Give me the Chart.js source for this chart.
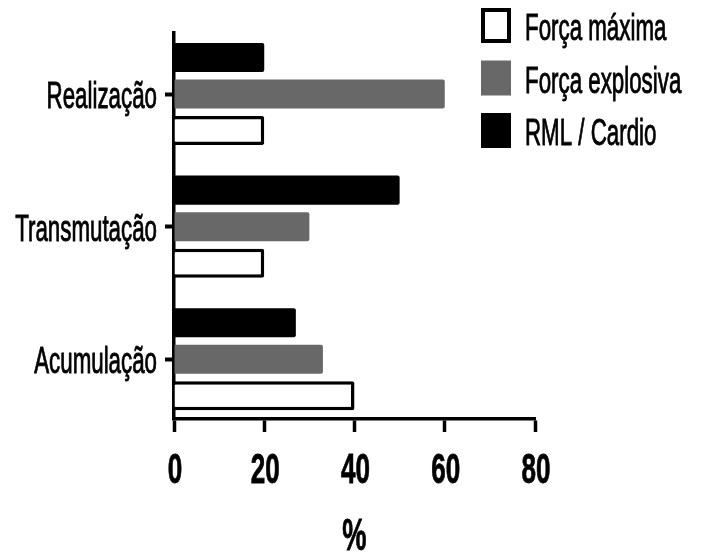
<!DOCTYPE html>
<html>
<head>
<meta charset="utf-8">
<script src="https://cdn.jsdelivr.net/npm/chart.js@4"></script>
<style>
  body { margin: 0; background: #fff; }
</style>
</head>
<body>
<canvas id="chart" width="701" height="556"></canvas>
<script>
const categories = ['Realização', 'Transmutação', 'Acumulação'];
const rmlCardio = [20, 50, 27];
const forcaExplosiva = [60, 30, 33];
const forcaMaxima = [20, 20, 40];
const xTicks = [0, 20, 40, 60, 80];
const xTitle = '%';

const FONT = "'Liberation Sans', Arial, sans-serif";
const SQUEEZE = 0.62; // the source lettering is tall and narrow

function squeezedText(ctx, text, x, y, font, align, heavy) {
    ctx.save();
    ctx.font = font;
    ctx.textAlign = align;
    ctx.textBaseline = 'alphabetic';
    ctx.fillStyle = '#000';
    ctx.translate(x, y);
    ctx.scale(SQUEEZE, 1);
    ctx.fillText(text, 0, 0);
    if (heavy) {
        ctx.lineWidth = heavy;
        ctx.strokeStyle = '#000';
        ctx.strokeText(text, 0, 0);
    }
    ctx.restore();
}

// tick labels, axis title and legend drawn here so the narrow lettering can be kept
const lettering = {
    id: 'lettering',
    afterDraw(chart) {
        const ctx = chart.ctx;
        const ys = chart.scales.y, xs = chart.scales.x;

        ys.ticks.forEach((t, i) => {
            squeezedText(ctx, categories[t.value], ys.right - 17, ys.getPixelForTick(i) + 14, '36px ' + FONT, 'right', 0.9);
        });
        xs.ticks.forEach((t, i) => {
            squeezedText(ctx, String(t.value), xs.getPixelForTick(i) + 1, xs.top + 64, 'bold 42px ' + FONT, 'center', 0.8);
        });
        squeezedText(ctx, xTitle, (xs.left + xs.right) / 2, 550, 'bold 44px ' + FONT, 'center', 0.8);

        const sets = chart.data.datasets.slice().reverse();
        sets.forEach((ds, i) => {
            const cy = 26 + i * 52.5;
            ctx.save();
            ctx.fillStyle = ds.backgroundColor;
            ctx.fillRect(481, cy - 18, 30, 35);
            if (ds.borderWidth) {
                ctx.lineWidth = 4;
                ctx.strokeStyle = ds.borderColor;
                ctx.strokeRect(483, cy - 16, 26, 31);
            }
            ctx.restore();
            squeezedText(ctx, ds.label, 525, cy + 14, '36px ' + FONT, 'left', 0.9);
        });
    }
};

new Chart(document.getElementById('chart'), {
    type: 'bar',
    data: {
        labels: categories.map((c, i) => i),
        datasets: [
            { label: 'RML / Cardio', data: rmlCardio, backgroundColor: '#000000', borderWidth: 0 },
            { label: 'Força explosiva', data: forcaExplosiva, backgroundColor: '#686868', borderWidth: 0 },
            { label: 'Força máxima', data: forcaMaxima, backgroundColor: '#ffffff', borderColor: '#000000', borderWidth: 3.5 }
        ]
    },
    options: {
        indexAxis: 'y',
        responsive: false,
        animation: false,
        devicePixelRatio: 1,
        layout: { padding: { top: 33, right: 166, left: 0, bottom: 0 } },
        datasets: {
            bar: { categoryPercentage: 0.826, barPercentage: 0.795, borderRadius: 2, borderSkipped: 'start' }
        },
        plugins: {
            legend: { display: false },
            tooltip: { enabled: false }
        },
        scales: {
            y: {
                type: 'linear',
                reverse: true,
                offset: false,
                min: -0.46,
                max: 2.45,
                z: 1,
                afterBuildTicks: s => { s.ticks = categories.map((c, i) => ({ value: i })); },
                afterFit: s => { s.width = 174; },
                ticks: { display: false },
                grid: { offset: false, drawOnChartArea: false, drawTicks: true, tickLength: 9, tickWidth: 4, tickColor: '#000' },
                border: { display: true, width: 3.5, color: '#000' }
            },
            x: {
                min: 0,
                max: 80,
                afterBuildTicks: s => { s.ticks = xTicks.map(v => ({ value: v })); },
                afterFit: s => { s.height = 137; },
                ticks: { display: false },
                grid: { drawOnChartArea: false, drawTicks: true, tickLength: 13, tickWidth: 3.5, tickColor: '#000' },
                border: { display: true, width: 3.5, color: '#000' }
            }
        }
    },
    plugins: [lettering]
});
</script>
</body>
</html>
